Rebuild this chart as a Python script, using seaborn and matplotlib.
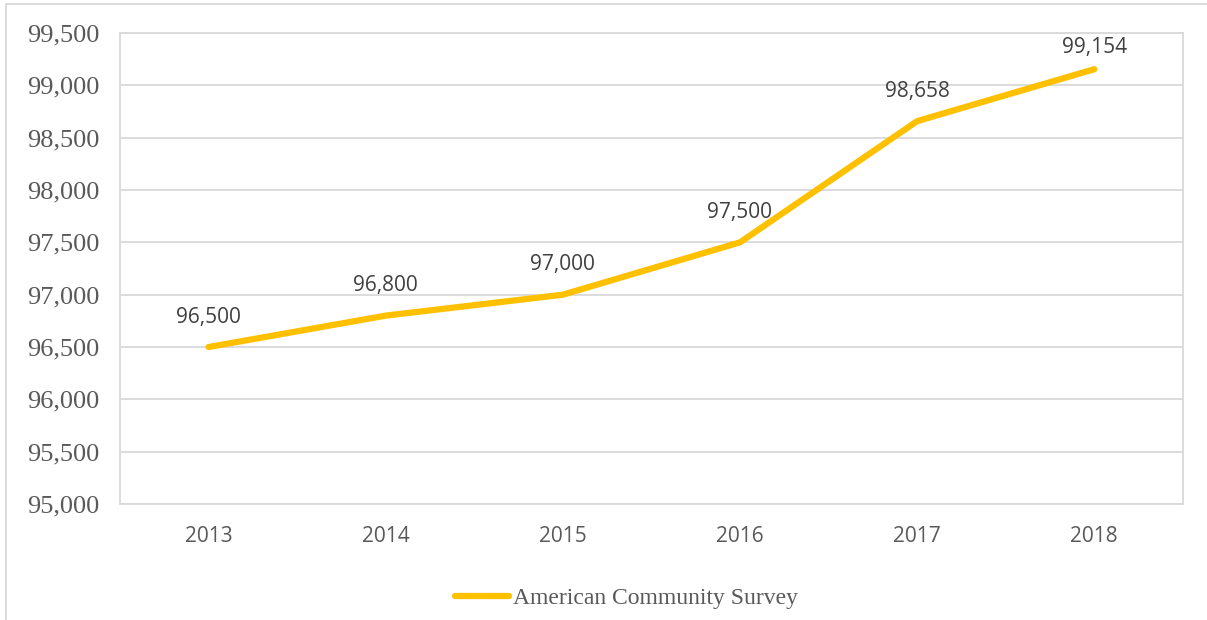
import matplotlib
matplotlib.use("Agg")
import matplotlib.pyplot as plt
import seaborn as sns
import pandas as pd
from matplotlib.patches import Rectangle
from matplotlib.ticker import FuncFormatter

years = ["2013", "2014", "2015", "2016", "2017", "2018"]
values = [96500, 96800, 97000, 97500, 98658, 99154]
series_name = "American Community Survey"

df = pd.DataFrame({"year": years, "value": values})

sns.set_style("white")
gold = "#FFC000"
grey_txt = "#595959"
grid_c = "#D9D9D9"

fig = plt.figure(figsize=(12.07, 6.2), dpi=100)
ax = fig.add_axes([0.0994, 0.187, 0.8806, 0.7598])

sns.lineplot(data=df, x="year", y="value", ax=ax, color=gold, linewidth=4.5,
             sort=False, solid_capstyle="round", legend=False)

ax.set_xlim(-0.5, len(years) - 0.5)
ax.set_ylim(95000, 99500)
ax.set_yticks(range(95000, 99501, 500))
ax.yaxis.set_major_formatter(FuncFormatter(lambda v, p: f"{int(v):,}"))
ax.grid(axis="y", color=grid_c, linewidth=1.3)
ax.set_axisbelow(True)
for s in ax.spines.values():
    s.set_color(grid_c)
    s.set_linewidth(1.3)
ax.set_xlabel("")
ax.set_ylabel("")
ax.tick_params(axis="both", length=0)
ax.tick_params(axis="x", pad=16)
ax.tick_params(axis="y", pad=15)
for t in ax.get_yticklabels():
    t.set_fontfamily("Liberation Serif")
    t.set_fontsize(19)
    t.set_color(grey_txt)
for t in ax.get_xticklabels():
    t.set_fontfamily("Open Sans")
    t.set_fontsize(15)
    t.set_color(grey_txt)

for i, v in enumerate(values):
    off = 14 if i < len(values) - 1 else 8
    ax.annotate(f"{v:,}", (i, v), xytext=(0, off), textcoords="offset points",
                ha="center", va="bottom", fontsize=15, family="Open Sans",
                color="#404040")

handle = plt.Line2D([], [], color=gold, linewidth=4.5, solid_capstyle="round")
leg = fig.legend([handle], [series_name], loc="center", bbox_to_anchor=(0.519, 0.035),
                 frameon=False, handlelength=2.3, handletextpad=0.15,
                 prop={"family": "Liberation Serif", "size": 17})
for t in leg.get_texts():
    t.set_color(grey_txt)

fig.patches.append(Rectangle((6 / 1207, -0.01), 1.1, 1 - 4 / 620 + 0.01,
                             transform=fig.transFigure, fill=False,
                             edgecolor=grid_c, linewidth=1.3))

fig.savefig("out.png", dpi=100)
